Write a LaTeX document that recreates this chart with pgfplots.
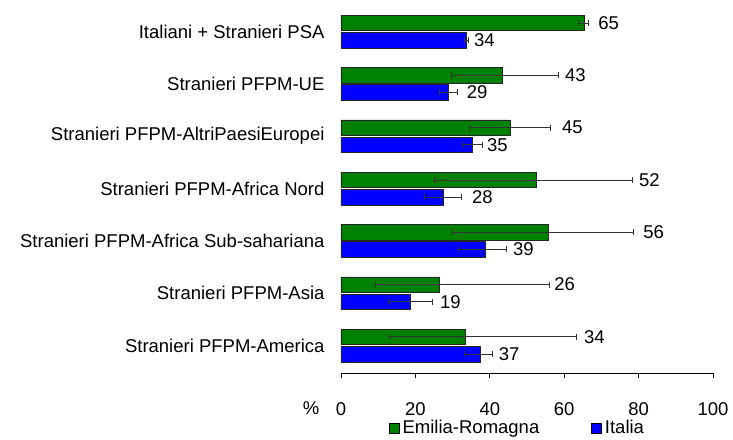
\documentclass[border=0pt]{standalone}
\usepackage{pgfplots}
\pgfplotsset{compat=1.18}
\usepackage{fontspec}
\setmainfont{Liberation Sans}
\definecolor{erg}{RGB}{0,128,0}
\definecolor{ita}{RGB}{0,0,255}
\pgfplotsset{
 errstyle/.style={forget plot, xbar, bar width=0pt, bar shift=0pt, draw=none, fill=none,
  error bars/.cd, x dir=both, x explicit, error mark=|,
  error bar style={draw=black!80, line width=0.8pt},
  error mark options={draw=black!80, line width=0.8pt, mark size=3pt}}
}
\begin{document}
\begin{tikzpicture}
\begin{axis}[
 width=372pt, height=369pt, scale only axis,
 xmin=0, xmax=100, ymin=-0.526, ymax=6.526,
 xtick={0,20,...,100},
 ytick={0,...,6},
 yticklabels={Stranieri PFPM-America, Stranieri PFPM-Asia, Stranieri PFPM-Africa Sub-sahariana, Stranieri PFPM-Africa Nord, Stranieri PFPM-AltriPaesiEuropei, Stranieri PFPM-UE, Italiani + Stranieri PSA},
 axis x line=bottom, axis y line=left, axis line style={-},
 x axis line style={draw=black, line width=1pt},
 y axis line style={draw=none}, ytick style={draw=none},
 tick align=outside, major tick length=5pt,
 xtick style={black, line width=0.9pt},
 font=\fontsize{18.5}{22}\selectfont,
 tick label style={font=\fontsize{18.5}{22}\selectfont},
 yticklabel style={xshift=-8pt},
 xticklabel style={yshift=-21pt},
 /pgf/number format/assume math mode=true,
 clip=false,
 legend columns=2,
 legend style={draw=none, fill=none, font=\fontsize{18.5}{22}\selectfont, at={(0.4745,-0.149)}, anchor=center,
   /tikz/every even column/.append style={column sep=50pt},
   /tikz/every odd column/.append style={column sep=1pt}},
 legend image code/.code={\draw[#1,draw=black,line width=0.6pt] (0pt,-5pt) rectangle (10pt,5pt);},
]
\addplot[xbar, bar width=15.5pt, bar shift=8.6pt, fill=erg, draw=black!85, line width=0.6pt]
 coordinates {(65.3,6) (43.4,5) (45.4,4) (52.6,3) (55.8,2) (26.5,1) (33.5,0)};
\addlegendentry{Emilia-Romagna}
\addplot[xbar, bar width=15.5pt, bar shift=-8.6pt, fill=ita, draw=black!85, line width=0.6pt]
 coordinates {(33.8,6) (28.9,5) (35.4,4) (27.6,3) (38.7,2) (18.6,1) (37.4,0)};
\addlegendentry{Italia}
% error bars (Emilia-Romagna)
\addplot[errstyle] coordinates {
 (65.3,6.164) += (1.3,0) -= (1.4,0)
 (43.4,5.164) += (15.1,0) -= (13.7,0)
 (45.4,4.164) += (10.9,0) -= (10.9,0)
 (52.6,3.164) += (25.6,0) -= (27.4,0)
 (55.8,2.164) += (22.9,0) -= (25.9,0)
 (26.5,1.164) += (29.5,0) -= (17.3,0)
 (33.5,0.164) += (29.9,0) -= (20.6,0)
 };
% error bars (Italia)
\addplot[errstyle] coordinates {
 (33.8,5.836) += (0.5,0) -= (0.5,0)
 (28.9,4.836) += (2.4,0) -= (2.5,0)
 (35.4,3.836) += (2.6,0) -= (2.7,0)
 (27.6,2.836) += (4.8,0) -= (5.2,0)
 (38.7,1.836) += (5.8,0) -= (7.1,0)
 (18.6,0.836) += (6.0,0) -= (5.9,0)
 (37.4,-0.164) += (3.3,0) -= (4.2,0)
 };
\addplot[forget plot, draw=none, mark=none, nodes near coords, point meta=explicit symbolic,
  nodes near coords style={anchor=west, inner sep=0pt, text=black}]
 coordinates {
 (69.1,6.164) [65]
 (60.2,5.164) [43]
 (59.4,4.164) [45]
 (80.1,3.164) [52]
 (81.2,2.164) [56]
 (57.3,1.164) [26]
 (65.3,0.164) [34]
 (35.7,5.836) [34]
 (33.8,4.836) [29]
 (39.2,3.836) [35]
 (35.2,2.836) [28]
 (46.2,1.836) [39]
 (26.6,0.836) [19]
 (42.4,-0.164) [37]
 };
\node[font=\fontsize{18.5}{22}\selectfont] at (rel axis cs:0,0) [xshift=-30pt, yshift=-35pt] {\%};
\end{axis}
\pgfresetboundingbox
\path (-341pt,-66pt) rectangle (392pt,373pt);
\end{tikzpicture}
\end{document}
